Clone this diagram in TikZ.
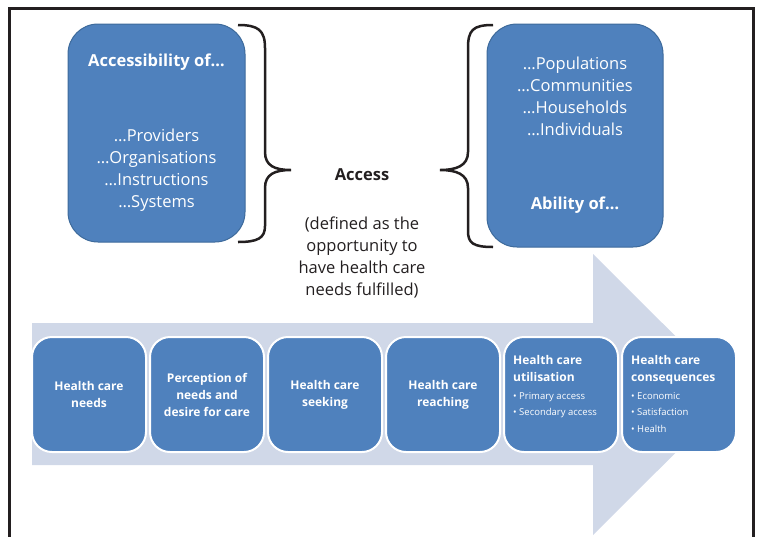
\documentclass[tikz,border=0pt]{standalone}
\usepackage{fontspec}
\setmainfont{Open Sans}
\usetikzlibrary{positioning}
\definecolor{boxblue}{HTML}{4F81BD}
\definecolor{boxline}{HTML}{3D6A9B}
\definecolor{arrowgrey}{HTML}{D0D8E8}
\definecolor{inkdark}{HTML}{231F20}
\begin{document}
\begin{tikzpicture}[x=1pt, y=-1pt, node distance={118pt},
  top/.style = {draw=boxline, line width=1pt, fill=boxblue, rounded corners=30pt, text=white, align=center, font=\fontsize{16.5}{22}\selectfont},
  stage/.style = {draw=white, line width=2pt, fill=boxblue, rounded corners=20pt, minimum width=114pt, minimum height=115pt, text=white, align=center, font=\bfseries\fontsize{12}{17}\selectfont},
  stagetext/.style = {text=white, align=left, inner sep=0pt, font=\bfseries\fontsize{12}{17}\selectfont},
  brace/.style = {draw=inkdark, line width=2.5pt}]
\useasboundingbox (0,0) rectangle (759,536);
% frame
\draw[inkdark, line width=3pt] (9.5,540) -- (9.5,8) -- (753,8) -- (753,540);
% big arrow
\fill[arrowgrey] (32,323) -- (593,323) -- (593,254) -- (734,394.5) -- (593,535) -- (593,465) -- (32,465) -- cycle;

\node[top, minimum width=177pt, minimum height=218pt] (L) at (156.5,133) {\textbf{Accessibility of…}\\[53pt]…Providers\\…Organisations\\…Instructions\\…Systems};
\node[top, minimum width=176pt, minimum height=223pt] (R) at (575,135.5) {…Populations\\…Communities\\…Households\\…Individuals\\[52pt]\textbf{Ability of…}};
\node[text=inkdark, font=\bfseries\fontsize{16.5}{22}\selectfont] (A) at (362,175) {Access};
\node[text=inkdark, align=center, font=\fontsize{16.5}{22}\selectfont] (D) at (362,257) {(defined as the\\opportunity to\\have health care\\needs fulfilled)};

\path[brace] (238,25) .. controls (258,25) and (265,30) .. (265,48) -- (265,152) .. controls (265,166) and (275,170) .. (291,170) .. controls (275,170) and (265,174) .. (265,188) -- (265,226) .. controls (265,238) and (258,242) .. (238,242);
\path[brace] (493,25) .. controls (473,25) and (468,30) .. (468,48) -- (468,152) .. controls (468,166) and (456,170) .. (440,170) .. controls (456,170) and (468,174) .. (468,188) -- (468,231) .. controls (468,243) and (473,247) .. (493,247);

\node[stage] (1) at (89,394.5) {Health care\\needs};
\node[stage] (2) [right of=1] {Perception of\\needs and\\desire for care};
\node[stage] (3) [right of=2] {Health care\\seeking};
\node[stage] (4) [right of=3] {Health care\\reaching};
\node[stage] (5) [right of=4] {};
\node[stage] (6) [right of=5] {};

\node[stagetext, anchor=north west] (5t) at ([shift={(10pt,-19pt)}]5.north west) {Health care\\utilisation\\[1pt]{\mdseries\fontsize{9.5}{16}\selectfont • Primary access}\\[-0.5pt]{\mdseries\fontsize{9.5}{16}\selectfont • Secondary access}};
\node[stagetext, anchor=north west] (6t) at ([shift={(10pt,-19pt)}]6.north west) {Health care\\consequences\\[1pt]{\mdseries\fontsize{9.5}{16}\selectfont • Economic}\\[-0.5pt]{\mdseries\fontsize{9.5}{16}\selectfont • Satisfaction}\\[-0.5pt]{\mdseries\fontsize{9.5}{16}\selectfont • Health}};
\end{tikzpicture}
\end{document}
